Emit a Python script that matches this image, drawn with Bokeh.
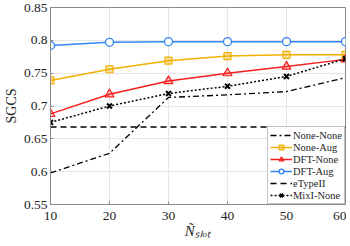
from bokeh.plotting import figure
from bokeh.models import Range1d, Legend, LegendItem, FixedTicker
from bokeh.embed import file_html
from bokeh.resources import INLINE

x = [10, 20, 30, 40, 50, 60]
none_none = [0.598, 0.628, 0.713, 0.717, 0.722, 0.743]
none_aug = [0.739, 0.756, 0.769, 0.776, 0.778, 0.778]
dft_none = [0.688, 0.718, 0.738, 0.750, 0.760, 0.771]
dft_aug = [0.792, 0.797, 0.798, 0.798, 0.798, 0.798]
etype2 = [0.668, 0.668, 0.668, 0.668, 0.668, 0.668]
mixi_none = [0.675, 0.700, 0.719, 0.730, 0.745, 0.772]
yticks = [0.55, 0.6, 0.65, 0.7, 0.75, 0.8, 0.85]
xticks = [10, 20, 30, 40, 50, 60]

FONT = "Liberation Serif"
TXT = "#262626"

p = figure(width=342, height=238, output_backend="svg", toolbar_location=None,
           x_range=Range1d(10, 60), y_range=Range1d(0.55, 0.85),
           frame_width=295, frame_height=197,
           min_border_left=46, min_border_right=1, min_border_top=7, min_border_bottom=34)
p.outline_line_color = "#8a8a8a"
p.background_fill_color = "white"
p.border_fill_color = "white"

for ax in (p.xaxis[0], p.yaxis[0]):
    ax.axis_line_color = "#8a8a8a"
    ax.major_tick_line_color = "#8a8a8a"
    ax.major_tick_in = 3
    ax.major_tick_out = 0
    ax.minor_tick_line_color = None
    ax.major_label_text_font = FONT
    ax.major_label_text_font_size = "13.5px"
    ax.major_label_text_color = TXT
    ax.axis_label_text_font = FONT
    ax.axis_label_text_color = TXT
p.xaxis.major_label_standoff = 7
p.yaxis.major_label_standoff = 3
p.yaxis.axis_label = "SGCS"
p.yaxis.axis_label_text_font_style = "normal"
p.yaxis.axis_label_text_font_size = "14px"
p.yaxis.axis_label_standoff = 2
p.xaxis.axis_label = "Ñ\u209B\u2097\u2092\u209C"
p.xaxis.axis_label_text_font_style = "italic"
p.xaxis.axis_label_text_font_size = "15px"
p.xaxis.axis_label_standoff = 0
p.xaxis.ticker = FixedTicker(ticks=xticks)
p.yaxis.ticker = FixedTicker(ticks=yticks)
p.yaxis.major_label_overrides = {v: ("%g" % v) for v in yticks}
p.xgrid.grid_line_color = "#e6e6e6"
p.ygrid.grid_line_color = "#e6e6e6"

r1 = p.line(x, none_none, line_color="black", line_width=1.3, line_dash="6 3 2 3")
r2l = p.line(x, none_aug, line_color="#F2B000", line_width=1.5)
r2m = p.scatter(x, none_aug, marker="square", size=7, line_color="#F2B000", fill_color="#F2B000", fill_alpha=0.35, line_width=1.2)
r3l = p.line(x, dft_none, line_color="#F51E1E", line_width=1.5)
r3m = p.scatter(x, dft_none, marker="triangle", size=9, line_color="#F51E1E", fill_color="#F51E1E", fill_alpha=0.25, line_width=1.2)
r4l = p.line(x, dft_aug, line_color="#3385F5", line_width=1.5)
r4m = p.scatter(x, dft_aug, marker="circle", size=8, line_color="#3385F5", fill_color="white", line_width=1.3)
r5 = p.line(x, etype2, line_color="black", line_width=1.5, line_dash="6 4")
r6l = p.line(x, mixi_none, line_color="black", line_width=1.5, line_dash="2 2")
r6m = p.scatter(x, mixi_none, marker="x", size=7, line_color="black", line_width=2)

legend = Legend(items=[
    LegendItem(label="None-None", renderers=[r1]),
    LegendItem(label="None-Aug", renderers=[r2l, r2m]),
    LegendItem(label="DFT-None", renderers=[r3l, r3m]),
    LegendItem(label="DFT-Aug", renderers=[r4l, r4m]),
    LegendItem(label="eTypeII", renderers=[r5]),
    LegendItem(label="MixI-None", renderers=[r6l, r6m]),
], location="bottom_right")
legend.label_text_font = FONT
legend.label_text_font_size = "10.5px"
legend.label_text_color = TXT
legend.glyph_width = 22
legend.glyph_height = 12
legend.label_height = 12
legend.label_standoff = 1
legend.spacing = 0
legend.padding = 2
legend.margin = 0
legend.border_line_color = "#8a8a8a"
legend.border_line_width = 1
legend.background_fill_alpha = 1
p.add_layout(legend, "center")

open("out.html", "w").write(file_html(p, INLINE))
